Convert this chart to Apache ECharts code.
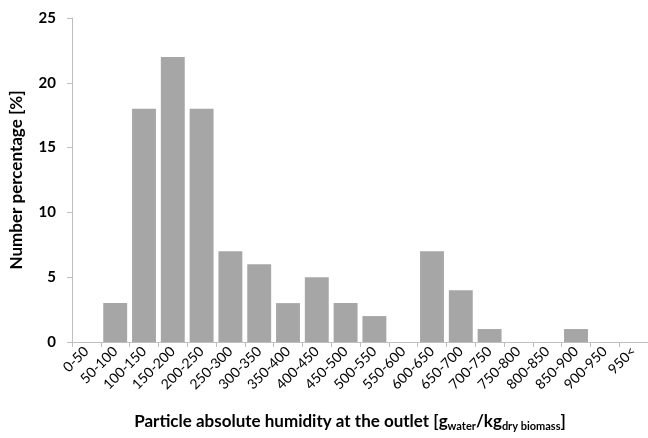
<!DOCTYPE html>
<html>
<head>
<meta charset="utf-8">
<script src="https://cdn.jsdelivr.net/npm/echarts@6/dist/echarts.min.js"></script>
<style>
  html, body { margin: 0; padding: 0; background: #fff; }
  #chart { width: 648px; height: 438px; }
</style>
</head>
<body>
<div id="chart"></div>
<script>
// Humidity classes (g water / kg dry biomass)
const categories = ['0-50', '50-100', '100-150', '150-200', '200-250', '250-300', '300-350',
  '350-400', '400-450', '450-500', '500-550', '550-600', '600-650', '650-700', '700-750',
  '750-800', '800-850', '850-900', '900-950', '950<'];
// Number percentage per class [%]
const percentages = [0, 3, 18, 22, 18, 7, 6, 3, 5, 3, 2, 0, 7, 4, 1, 0, 0, 1, 0, 0];
const yTicks = { min: 0, max: 25, interval: 5 };

const font = 'Lato, "Open Sans", sans-serif';
const chart = echarts.init(document.getElementById('chart'), null, { renderer: 'canvas' });

chart.setOption({
  animation: false,
  backgroundColor: '#ffffff',
  grid: { left: 68, right: 0, top: 18, bottom: 96 },
  xAxis: {
    type: 'category',
    data: categories,
    boundaryGap: true,
    axisLine: { lineStyle: { color: '#bfbfbf', width: 1 } },
    axisTick: { show: true, length: 5, lineStyle: { color: '#bfbfbf' } },
    axisLabel: { rotate: 45, interval: 0, color: '#000', fontFamily: font, fontSize: 14, margin: 7 },
    name: '{t|Particle absolute humidity at the outlet [g}{s|water}{t|/kg}{s|dry biomass}{t|]}',
    nameLocation: 'middle',
    nameGap: 69,
    nameTextStyle: {
      padding: [0, 0, 0, -20],
      rich: {
        t: { fontFamily: font, fontSize: 17, fontWeight: 'bold', color: '#000' },
        s: { fontFamily: font, fontSize: 11, fontWeight: 'bold', color: '#000', padding: [10, 0, 0, 0] }
      }
    }
  },
  yAxis: {
    type: 'value',
    min: yTicks.min,
    max: yTicks.max,
    interval: yTicks.interval,
    splitLine: { show: false },
    axisLine: { show: true, lineStyle: { color: '#bfbfbf', width: 1 } },
    axisTick: { show: true, length: 5, lineStyle: { color: '#bfbfbf' } },
    axisLabel: { color: '#000', fontFamily: font, fontSize: 15, fontWeight: 'bold', margin: 16 },
    name: 'Number percentage [%]',
    nameLocation: 'middle',
    nameGap: 47,
    nameTextStyle: { fontFamily: font, fontSize: 17, fontWeight: 'bold', color: '#000' }
  },
  series: [{
    type: 'bar',
    data: percentages,
    barCategoryGap: '17%',
    itemStyle: { color: '#a6a6a6' }
  }]
});
</script>
</body>
</html>
